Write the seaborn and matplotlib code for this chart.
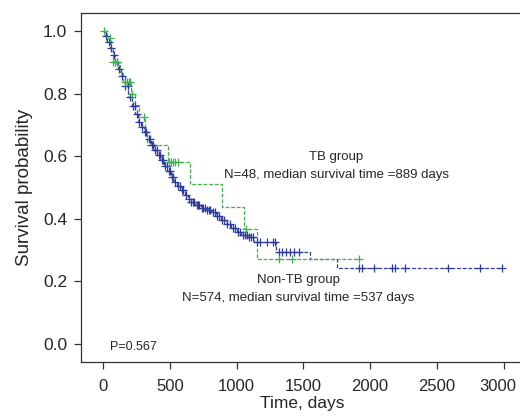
import numpy as np
import pandas as pd
import matplotlib
matplotlib.use("Agg")
import matplotlib.pyplot as plt
import matplotlib.transforms as mtransforms
import seaborn as sns

# Non-TB group (step curve)
nontb_time = [0, 15, 30, 50, 70, 90, 113, 135, 160, 189, 215, 240, 264, 285, 302,
              330, 355, 380, 405, 430, 455, 480, 506, 530, 555, 581, 610, 635, 657,
              690, 732, 770, 808, 845, 883, 920, 958, 1000, 1034, 1080, 1132, 1298,
              1547, 1751, 2996]
nontb_surv = [1.000, 0.985, 0.965, 0.945, 0.925, 0.900, 0.880, 0.855, 0.825, 0.790,
              0.762, 0.735, 0.710, 0.692, 0.677, 0.655, 0.636, 0.620, 0.603, 0.588,
              0.570, 0.552, 0.534, 0.518, 0.505, 0.492, 0.476, 0.463, 0.454, 0.443,
              0.434, 0.428, 0.420, 0.408, 0.396, 0.383, 0.370, 0.358, 0.348, 0.340,
              0.326, 0.294, 0.272, 0.243, 0.243]
nontb_censor = [20, 40, 60, 80, 100, 120, 140, 165, 185, 200, 220, 235, 250, 270,
                290, 310, 320, 340, 350, 365, 375, 390, 400, 415, 425, 440, 450, 465,
                475, 490, 500, 515, 525, 540, 560, 575, 590, 600, 620, 640, 660, 670,
                680, 700, 710, 720, 740, 750, 760, 780, 790, 800, 820, 835, 850, 870,
                890, 905, 930, 950, 970, 990, 1010, 1025, 1045, 1060, 1075, 1095,
                1110, 1125, 1150, 1175, 1230, 1270, 1285, 1320, 1340, 1370, 1400,
                1430, 1464, 1917, 1940, 2030, 2166, 2189, 2264, 2581, 2822, 2989]

# TB group
tb_time = [0, 25, 55, 72, 128, 150, 210, 240, 265, 310, 325, 483, 650, 890, 1057,
           1150, 1917]
tb_surv = [1.000, 0.978, 0.935, 0.900, 0.870, 0.837, 0.800, 0.765, 0.725, 0.680,
           0.636, 0.580, 0.510, 0.438, 0.367, 0.272, 0.272]
tb_censor = [8, 53, 75, 90, 106, 166, 180, 192, 204, 219, 302, 490, 505, 520, 540,
             560, 1072, 1320, 1411, 1917]

blue = "#2E3D9B"
green = "#3DB24A"


def surv_at(times, surv, t):
    idx = np.searchsorted(times, t, side="right") - 1
    return np.array(surv)[idx]


sns.set_style("ticks")
plt.rcParams["font.family"] = ["Liberation Sans", "DejaVu Sans"]

fig = plt.figure(figsize=(5.2, 4.17), dpi=100)
ax = fig.add_axes([0.156, 0.132, 0.85, 0.837])

for times, surv, cens, col in [(nontb_time, nontb_surv, nontb_censor, blue),
                               (tb_time, tb_surv, tb_censor, green)]:
    df = pd.DataFrame({"t": times, "s": surv})
    sns.lineplot(data=df, x="t", y="s", ax=ax, color=col, drawstyle="steps-post",
                 linewidth=0.9, linestyle=(0, (3, 1.5)), estimator=None)
    cdf = pd.DataFrame({"t": cens, "s": surv_at(times, surv, cens)})
    sns.scatterplot(data=cdf, x="t", y="s", ax=ax, color=col, marker="+", s=28,
                    linewidth=0.9, zorder=3)

ax.set_xlim(-166, 3147)
ax.set_ylim(-0.058, 1.058)
ax.set_xticks([0, 500, 1000, 1500, 2000, 2500, 3000])
ax.set_yticks([0.0, 0.2, 0.4, 0.6, 0.8, 1.0])
ax.set_yticklabels(["0.0", "0.2", "0.4", "0.6", "0.8", "1.0"])
ax.tick_params(labelsize=12.5, length=5, width=0.9, color="#333333", pad=5)
ax.tick_params(axis="x", labelsize=12, pad=7)
ax.set_xlabel("Time, days", fontsize=12.5, labelpad=2)
ax.set_ylabel("Survival probability", fontsize=13.5, labelpad=7)
ax.spines["right"].set_visible(False)
for sp in ["left", "bottom", "top"]:
    ax.spines[sp].set_linewidth(0.9)
    ax.spines[sp].set_color("#333333")

# nudge the last x label inward so it stays inside the figure
last = ax.get_xticklabels()[-1]
last.set_transform(last.get_transform() +
                   mtransforms.ScaledTranslation(-6 / 100, 0, fig.dpi_scale_trans))

ax.text(1747, 0.597, "TB group", fontsize=9.5, ha="center", va="center")
ax.text(1747, 0.54, "N=48, median survival time =889 days", fontsize=9.5,
        ha="center", va="center")
ax.text(1464, 0.204, "Non-TB group", fontsize=9.5, ha="center", va="center")
ax.text(1464, 0.147, "N=574, median survival time =537 days", fontsize=9.5,
        ha="center", va="center")
ax.text(53, -0.01, "P=0.567", fontsize=9, ha="left", va="center")

fig.savefig("out.png", dpi=100)
